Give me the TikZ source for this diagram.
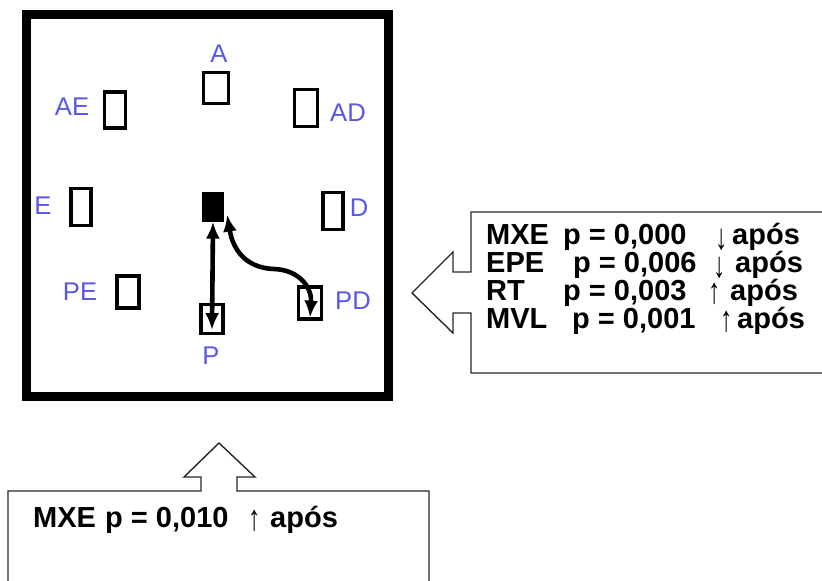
\documentclass[tikz,border=0pt]{standalone}
\usepackage{fontspec}
\setmainfont{Liberation Sans}
\usepackage{graphicx}
\usepackage{tikz}
\usetikzlibrary{arrows.meta}
\definecolor{rotulo}{RGB}{88,88,228}
\newcommand{\sobe}{\raisebox{-3pt}{\mdseries\scalebox{0.85}[1.25]{↑}}}
\newcommand{\desce}{\raisebox{-5pt}{\mdseries\scalebox{0.85}[1.25]{↓}}}

\begin{document}
\begin{tikzpicture}[x=1pt,y=-1pt]
\tikzset{loc/.style={draw,rectangle,line width=3.2pt,inner sep=0pt},
 rot/.style={text=rotulo,font=\fontsize{25.6}{30}\selectfont,inner sep=0pt},
 seta/.style={line width=4.6pt,{Latex[length=17pt,width=14pt]}-{Latex[length=17pt,width=14pt]}},
 balao/.style={line width=1.4pt,draw=black!85,line join=miter},
 res/.style={font=\fontsize{29}{30}\selectfont\bfseries,inner sep=0pt,anchor=base west}}
\useasboundingbox (0,0) rectangle (822,581);

% sala
\draw[line width=9pt] (26,14) rectangle (388,396);

% posicoes
\node (a) at (216,88) [loc,minimum width=25pt,minimum height=31pt] {};
\node (ae) at (115,110) [loc,minimum width=21pt,minimum height=36pt] {};
\node (ad) at (306,108) [loc,minimum width=23pt,minimum height=37pt] {};
\node (e) at (81,207) [loc,minimum width=20pt,minimum height=37pt] {};
\node (c) at (213,207) [loc,fill=black,minimum width=19pt,minimum height=26pt] {};
\node (d) at (333,211) [loc,minimum width=20pt,minimum height=37pt] {};
\node (pe) at (128,292) [loc,minimum width=22pt,minimum height=32pt] {};
\node (p) at (212,319) [loc,minimum width=22pt,minimum height=29pt] {};
\node (pd) at (310,303) [loc,minimum width=23pt,minimum height=32pt] {};

% rotulos
\node (la) at (219,54) [rot] {A};
\node (lae) at (72,107) [rot] {AE};
\node (lad) at (348,113) [rot] {AD};
\node (le) at (43,206) [rot] {E};
\node (ld) at (359,208) [rot] {D};
\node (lpe) at (80,292) [rot] {PE};
\node (lp) at (211,356) [rot] {P};
\node (lpd) at (353,301) [rot] {PD};

% trajetos
\coordinate (curva) at (274,269);
\draw[seta] (c.south) -- ([yshift=5pt]p.south);
\draw[seta] ([xshift=3pt,yshift=7pt]c.south east) .. controls (233,250) and (246,268) .. (curva)
  .. controls (300,270) and (312,288) .. ([yshift=3pt]pd.south);

% balao lateral
\draw[balao] (823,212) -- (471,212) -- (471,272) -- (453,272) -- (453,252) -- (412,293)
  -- (453,333) -- (453,313) -- (471,313) -- (471,373) -- (823,373);
\node (r1) at (486,244) [res] {\makebox[77pt][l]{MXE}\makebox[152pt][l]{p = 0,000}\makebox[17pt][l]{\desce}após};
\node (r2) at (486,272) [res] {\makebox[87pt][l]{EPE}\makebox[140pt][l]{p = 0,006}\makebox[22pt][l]{\desce}após};
\node (r3) at (486,300) [res] {\makebox[77pt][l]{RT}\makebox[145pt][l]{p = 0,003}\makebox[22pt][l]{\sobe}após};
\node (r4) at (486,328) [res] {\makebox[86pt][l]{MVL}\makebox[148pt][l]{p = 0,001}\makebox[17pt][l]{\sobe}após};

% balao inferior
\draw[balao] (8,582) -- (8,491) -- (201,491) -- (201,477) -- (184,477) -- (219,443)
  -- (255,477) -- (237,477) -- (237,491) -- (429,491) -- (429,582);
\node (b1) at (33,527) [res] {\makebox[72pt][l]{MXE}\makebox[143pt][l]{p = 0,010}\makebox[22pt][l]{\sobe}após};

\end{tikzpicture}
\end{document}
